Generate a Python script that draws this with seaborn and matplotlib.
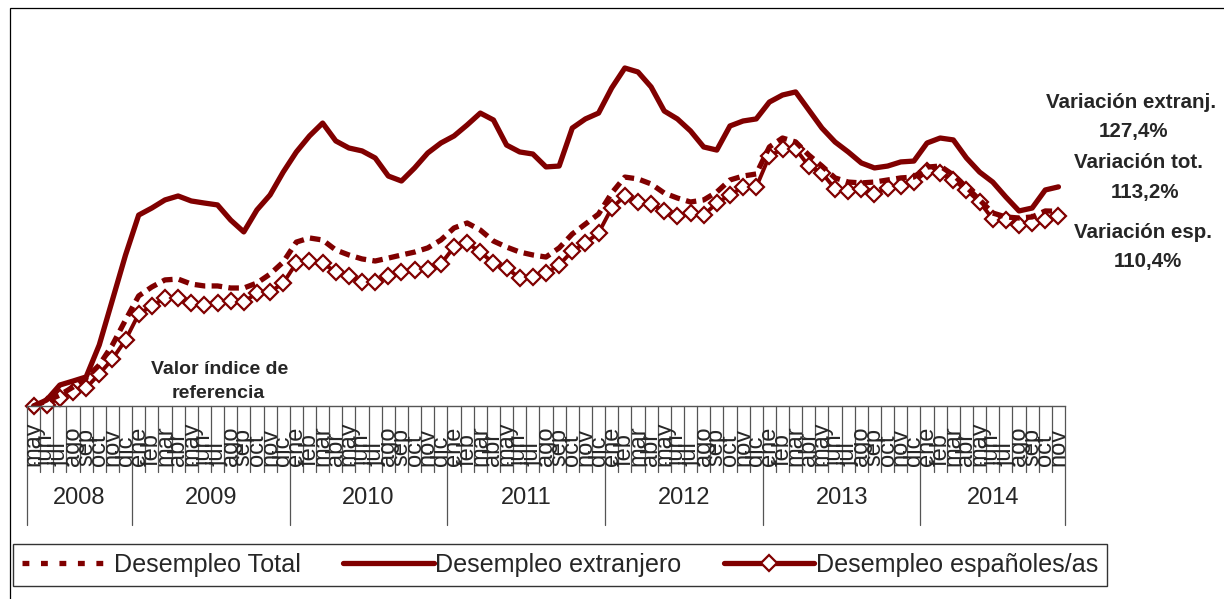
import matplotlib.pyplot as plt
import matplotlib.transforms as mtransforms
import pandas as pd
import seaborn as sns
from matplotlib.lines import Line2D
from matplotlib.patches import Rectangle

# Month and year labels
meses = ['ene', 'feb', 'mar', 'abr', 'may', 'jun', 'jul', 'ago', 'sep', 'oct', 'nov', 'dic']
mes_labels = meses[4:] + meses * 5 + meses[:11]   # may 2008 .. nov 2014
years = ['2008', '2009', '2010', '2011', '2012', '2013', '2014']
meses_por_year = [8, 12, 12, 12, 12, 12, 11]

# Index values (may 2008 = 100)
total = [100.0, 102.9, 106.4, 111.0, 116.3, 123.8, 135.5, 150.0,
         164.0, 169.2, 173.3, 173.8, 170.9, 169.8, 169.8, 168.6, 168.6, 171.5, 176.7, 183.7,
         195.3, 197.7, 196.5, 190.7, 187.8, 185.5, 184.3, 186.0, 187.8, 189.5, 191.9, 196.5,
         203.5, 206.4, 202.3, 195.9, 192.4, 189.5, 187.8, 186.6, 191.9, 200.0, 205.8, 211.6,
         223.8, 233.1, 232.0, 229.1, 223.8, 220.9, 218.6, 219.8, 224.4, 231.4, 233.7, 234.9,
         250.6, 255.8, 253.5, 245.9, 239.5, 232.6, 230.2, 229.7, 230.2, 231.4, 232.6, 233.1,
         238.9, 239.5, 234.3, 227.3, 219.8, 212.2, 209.9, 209.3, 209.9, 213.4, 213.2]
extranjero = [100.0, 103.5, 112.2, 114.5, 116.9, 135.5, 161.6, 187.8,
              211.0, 215.1, 219.8, 222.1, 219.2, 218.0, 216.9, 208.1, 201.2, 214.0, 222.7, 236.0,
              247.7, 257.0, 264.5, 254.1, 250.0, 248.3, 244.2, 233.7, 230.8, 238.4, 247.1, 252.9,
              257.0, 263.4, 270.3, 266.3, 251.7, 247.7, 246.5, 239.0, 239.5, 261.6, 266.9, 270.3,
              284.9, 296.5, 294.2, 285.5, 271.5, 266.9, 259.9, 250.6, 248.8, 262.8, 265.7, 266.9,
              276.7, 280.8, 282.6, 272.1, 261.6, 253.5, 247.7, 241.3, 238.4, 239.5, 241.9, 242.4,
              252.9, 255.8, 254.7, 244.2, 236.0, 230.2, 221.5, 213.4, 215.1, 225.6, 227.4]
espanoles = [100.0, 100.8, 104.7, 108.1, 110.5, 118.6, 127.3, 138.4,
             153.5, 158.1, 162.8, 162.8, 159.9, 158.7, 159.9, 161.0, 160.5, 165.7, 166.3, 171.5,
             183.1, 184.3, 183.1, 177.9, 175.6, 172.1, 172.1, 175.6, 177.9, 179.1, 179.7, 182.6,
             192.4, 194.8, 189.5, 183.1, 180.2, 174.4, 175.0, 177.3, 182.0, 190.1, 194.8, 200.6,
             215.1, 222.1, 218.6, 217.4, 213.4, 210.5, 212.2, 211.0, 218.0, 222.7, 227.3, 227.3,
             245.3, 249.4, 249.4, 239.5, 235.5, 226.2, 225.0, 226.2, 223.3, 226.7, 227.9, 230.2,
             236.6, 235.5, 231.4, 225.6, 218.6, 208.7, 208.1, 205.2, 206.4, 208.1, 210.4]

serie_labels = ['Desempleo Total', 'Desempleo extranjero', 'Desempleo españoles/as']
variaciones = ['Variación extranj.', '127,4%', 'Variación tot.', '113,2%', 'Variación esp.', '110,4%']

df = pd.DataFrame({'n': range(len(mes_labels)), 'mes': mes_labels,
                   'total': total, 'extranjero': extranjero, 'espanoles': espanoles})

sns.set_style('white')
plt.rcParams['font.family'] = ['Liberation Sans', 'DejaVu Sans']

red = '#800000'
W, H = 1224, 599
fig = plt.figure(figsize=(W / 100, H / 100), dpi=100)
ax = fig.add_axes([27 / W, 1 - 406 / H, 1038 / W, 376 / H])

sns.lineplot(data=df, x='n', y='espanoles', ax=ax, color=red, lw=2.8, marker='D', ms=8.3,
             mfc='white', mec=red, mew=1.6, clip_on=False)
sns.lineplot(data=df, x='n', y='total', ax=ax, color=red, lw=3.8, linestyle=(0, (2, 1.2)))
sns.lineplot(data=df, x='n', y='extranjero', ax=ax, color=red, lw=3.8)

ax.set_xlim(-0.5, len(mes_labels) - 0.5)
ax.set_ylim(100, 318.6)
ax.set_xticks([])
ax.set_yticks([])
ax.set_xlabel('')
ax.set_ylabel('')
for s in ['top', 'left', 'right']:
    ax.spines[s].set_visible(False)
ax.spines['bottom'].set_color('#555555')
ax.spines['bottom'].set_linewidth(1)

# category axis: month / year rows
trans = mtransforms.blended_transform_factory(ax.transData, ax.transAxes)
y_mes = (406 - 472) / 376
y_year = (406 - 525) / 376
year_edges = [0]
for c in meses_por_year:
    year_edges.append(year_edges[-1] + c)
for b in range(len(mes_labels) + 1):
    y_end = y_year if b in year_edges else y_mes
    ax.plot([b - 0.5, b - 0.5], [0, y_end], transform=trans, color='#555555', lw=0.9,
            clip_on=False)
for i, lab in enumerate(mes_labels):
    ax.text(i, (406 - 466) / 376, lab, transform=trans, rotation=90, ha='center',
            va='bottom', fontsize=17)
for k, yr in enumerate(years):
    mid = (year_edges[k] + year_edges[k + 1]) / 2 - 0.5
    ax.text(mid, (406 - 498) / 376, yr, transform=trans, ha='center', va='center',
            fontsize=17)

# right-hand annotations
ann_pos = [(1131, 102), (1133, 132), (1138, 162), (1145, 192), (1143, 232), (1148, 262)]
for txt, (px, py) in zip(variaciones, ann_pos):
    fig.text(px / W, 1 - py / H, txt, ha='center', va='center', fontsize=14.8,
             fontweight='bold')

fig.text(220 / W, 1 - 370 / H, 'Valor índice de', ha='center', va='center', fontsize=14,
         fontweight='bold')
fig.text(218 / W, 1 - 393 / H, 'referencia', ha='center', va='center', fontsize=14,
         fontweight='bold')

# legend
handles = [
    Line2D([], [], color=red, lw=3.8, linestyle=(0, (1.3, 2.2))),
    Line2D([], [], color=red, lw=3.8),
    Line2D([], [], color=red, lw=3.8, marker='D', ms=8.3, mfc='white', mec=red, mew=1.6),
]
fig.legend(handles, serie_labels, loc='lower left', bbox_to_anchor=(13 / W, 1 - 586 / H),
           ncol=3, frameon=True, fancybox=False, edgecolor='black', fontsize=18.1,
           handlelength=3.6, handletextpad=0.05, columnspacing=1.7, borderaxespad=0,
           borderpad=0.35, numpoints=1)

# outer chart frame (open on right/bottom, as cropped)
fig.add_artist(Rectangle((10 / W, -0.1), 1.2, 1 - 8 / H + 0.1, transform=fig.transFigure,
                         fill=False, ec='black', lw=0.9))

fig.savefig('out.png', dpi=100)
